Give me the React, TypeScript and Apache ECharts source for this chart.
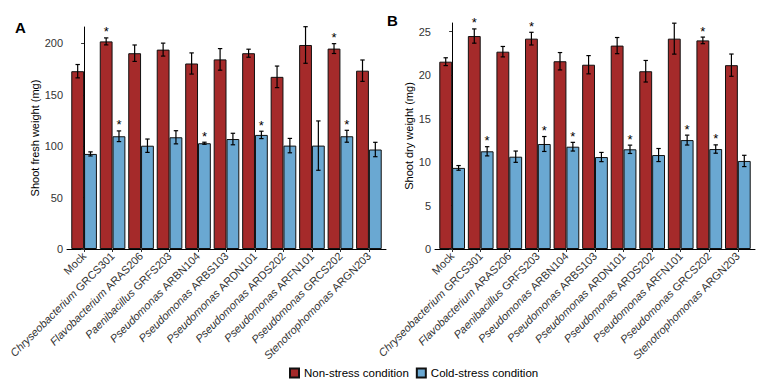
import React, { useEffect, useRef } from "react";
import * as echarts from "echarts";

const genus = ["", "Chryseobacterium", "Flavobacterium", "Paenibacillus", "Pseudomonas", "Pseudomonas", "Pseudomonas", "Pseudomonas", "Pseudomonas", "Pseudomonas", "Stenotrophomonas"];
const strain = ["Mock", "GRCS301", "ARAS206", "GRFS203", "ARBN104", "ARBS103", "ARDN101", "ARDS202", "ARFN101", "GRCS202", "ARGN203"];

const freshNon = [173, 202, 190.5, 194, 180.5, 184.5, 190.5, 167.5, 198.5, 195, 173.5];
const freshNonErr = [6.5, 3.4, 8, 6.3, 10.3, 10.5, 3.9, 10.5, 17.8, 4.8, 10.4];
const freshNonSig = [0, 1, 0, 0, 0, 0, 0, 0, 0, 1, 0];
const freshCold = [92.5, 109.7, 100.5, 108.7, 102.9, 107, 111, 100.6, 100.6, 109.7, 96.8];
const freshColdErr = [2, 5.2, 6.5, 6.4, 1, 5.6, 3.6, 7, 24, 5.8, 7];
const freshColdSig = [0, 1, 0, 0, 1, 0, 1, 0, 0, 1, 0];

const dryNon = [21.55, 24.5, 22.7, 24.2, 21.6, 21.2, 23.4, 20.45, 24.2, 24.0, 21.15];
const dryNonErr = [0.45, 0.82, 0.6, 0.73, 1.0, 1.05, 0.93, 1.24, 1.78, 0.38, 1.28];
const dryNonSig = [0, 1, 0, 1, 0, 0, 0, 0, 0, 1, 0];
const dryCold = [9.33, 11.24, 10.62, 12.08, 11.77, 10.58, 11.47, 10.81, 12.53, 11.5, 10.13];
const dryColdErr = [0.27, 0.53, 0.65, 0.86, 0.5, 0.53, 0.48, 0.75, 0.57, 0.48, 0.65];
const dryColdSig = [0, 1, 0, 1, 1, 0, 1, 0, 1, 1, 0];

const yTicksA = [0, 50, 100, 150, 200];
const yMaxA = 216;
const yTicksB = [0, 5, 10, 15, 20, 25];
const yMaxB = 26;

const RED = "#A52A2A";
const BLUE = "#6AA8D2";
const FONT = "Liberation Sans";
const OFF = 0.225;

function App() {
  const ref = useRef<HTMLDivElement>(null);
  useEffect(() => {
    document.body.style.margin = "0";
    const chart = echarts.init(ref.current!, null, { renderer: "svg" });
    const idx = strain.map((_, i) => i);

    const xAxisFor = (gridIndex: number) => ({
      type: "value",
      gridIndex,
      min: -0.6,
      max: 10.6,
      splitLine: { show: false },
      axisLine: { show: true, onZero: false, lineStyle: { color: "#000", width: 1 } },
      axisTick: { show: true, length: 3, customValues: idx, lineStyle: { color: "#333" } },
      axisLabel: {
        customValues: idx,
        rotate: 45,
        margin: 5,
        fontFamily: FONT,
        fontSize: 11,
        color: "#333",
        formatter: (v: number) => {
          const i = Math.round(v);
          return genus[i] ? `{i|${genus[i]}} ${strain[i]}` : strain[i];
        },
        rich: { i: { fontStyle: "italic", fontFamily: FONT, fontSize: 11, color: "#333" } },
      },
    });

    const yAxisFor = (gridIndex: number, ticks: number[], max: number, name: string, gap: number) => ({
      type: "value",
      gridIndex,
      min: 0,
      max,
      name,
      nameLocation: "middle",
      nameGap: gap,
      nameTextStyle: { fontFamily: FONT, fontSize: 11, color: "#000" },
      splitLine: { show: false },
      axisLine: { show: true, lineStyle: { color: "#000", width: 1 } },
      axisTick: { show: true, length: 3, customValues: ticks, lineStyle: { color: "#333" } },
      axisLabel: { customValues: ticks, margin: 4, fontFamily: FONT, fontSize: 11, color: "#333" },
    });

    const barSeries = (name: string, vals: number[], color: string, ax: number) => ({
      type: "bar",
      name,
      xAxisIndex: ax,
      yAxisIndex: ax,
      data: vals.map((v, i) => [i, v]),
      barWidth: "45%",
      barGap: "0%",
      itemStyle: { color, borderColor: "#111", borderWidth: 1 },
    });

    const errSeries = (vals: number[], errs: number[], sig: number[], off: number, ax: number) => ({
      type: "custom",
      xAxisIndex: ax,
      yAxisIndex: ax,
      z: 10,
      encode: { x: 0, y: 1 },
      data: vals.map((v, i) => [i + off, v, errs[i], sig[i]]),
      renderItem: (params: any, api: any) => {
        const x = api.value(0);
        const m = api.value(1);
        const e = api.value(2);
        const s = api.value(3);
        const top = api.coord([x, m + e]);
        const bot = api.coord([x, m - e]);
        const cw = 2.2;
        const st = { stroke: "#000", lineWidth: 1.2 };
        const children: any[] = [
          { type: "line", shape: { x1: top[0], y1: top[1], x2: bot[0], y2: bot[1] }, style: st },
          { type: "line", shape: { x1: top[0] - cw, y1: top[1], x2: top[0] + cw, y2: top[1] }, style: st },
          { type: "line", shape: { x1: bot[0] - cw, y1: bot[1], x2: bot[0] + cw, y2: bot[1] }, style: st },
        ];
        if (s) {
          children.push({
            type: "text",
            style: {
              text: "*",
              x: top[0],
              y: top[1] - 6,
              align: "center",
              verticalAlign: "middle",
              fontFamily: FONT,
              fontSize: 13,
              fill: "#000",
            },
          });
        }
        return { type: "group", children };
      },
    });

    chart.setOption({
      animation: false,
      textStyle: { fontFamily: FONT },
      grid: [
        { left: 67, top: 27, width: 319, height: 222, containLabel: false },
        { left: 435, top: 23, width: 320, height: 226, containLabel: false },
      ],
      xAxis: [xAxisFor(0), xAxisFor(1)],
      yAxis: [
        yAxisFor(0, yTicksA, yMaxA, "Shoot fresh weight (mg)", 18),
        yAxisFor(1, yTicksB, yMaxB, "Shoot dry weight (mg)", 17),
      ],
      legend: {
        left: 284,
        top: 362,
        itemWidth: 9,
        itemHeight: 9,
        itemGap: 7,
        icon: "rect",
        textStyle: { fontFamily: FONT, fontSize: 11.5, color: "#000" },
        data: ["Non-stress condition", "Cold-stress condition"],
      },
      graphic: [
        { type: "text", left: 15, top: 20, style: { text: "A", fontFamily: FONT, fontSize: 15, fontWeight: "bold", fill: "#000" } },
        { type: "text", left: 387, top: 13, style: { text: "B", fontFamily: FONT, fontSize: 15, fontWeight: "bold", fill: "#000" } },
      ],
      series: [
        barSeries("Non-stress condition", freshNon, RED, 0),
        barSeries("Cold-stress condition", freshCold, BLUE, 0),
        barSeries("Non-stress condition", dryNon, RED, 1),
        barSeries("Cold-stress condition", dryCold, BLUE, 1),
        errSeries(freshNon, freshNonErr, freshNonSig, -OFF, 0),
        errSeries(freshCold, freshColdErr, freshColdSig, OFF, 0),
        errSeries(dryNon, dryNonErr, dryNonSig, -OFF, 1),
        errSeries(dryCold, dryColdErr, dryColdSig, OFF, 1),
      ],
    });
    return () => chart.dispose();
  }, []);
  return <div ref={ref} style={{ width: 784, height: 392 }} />;
}

export default App;
